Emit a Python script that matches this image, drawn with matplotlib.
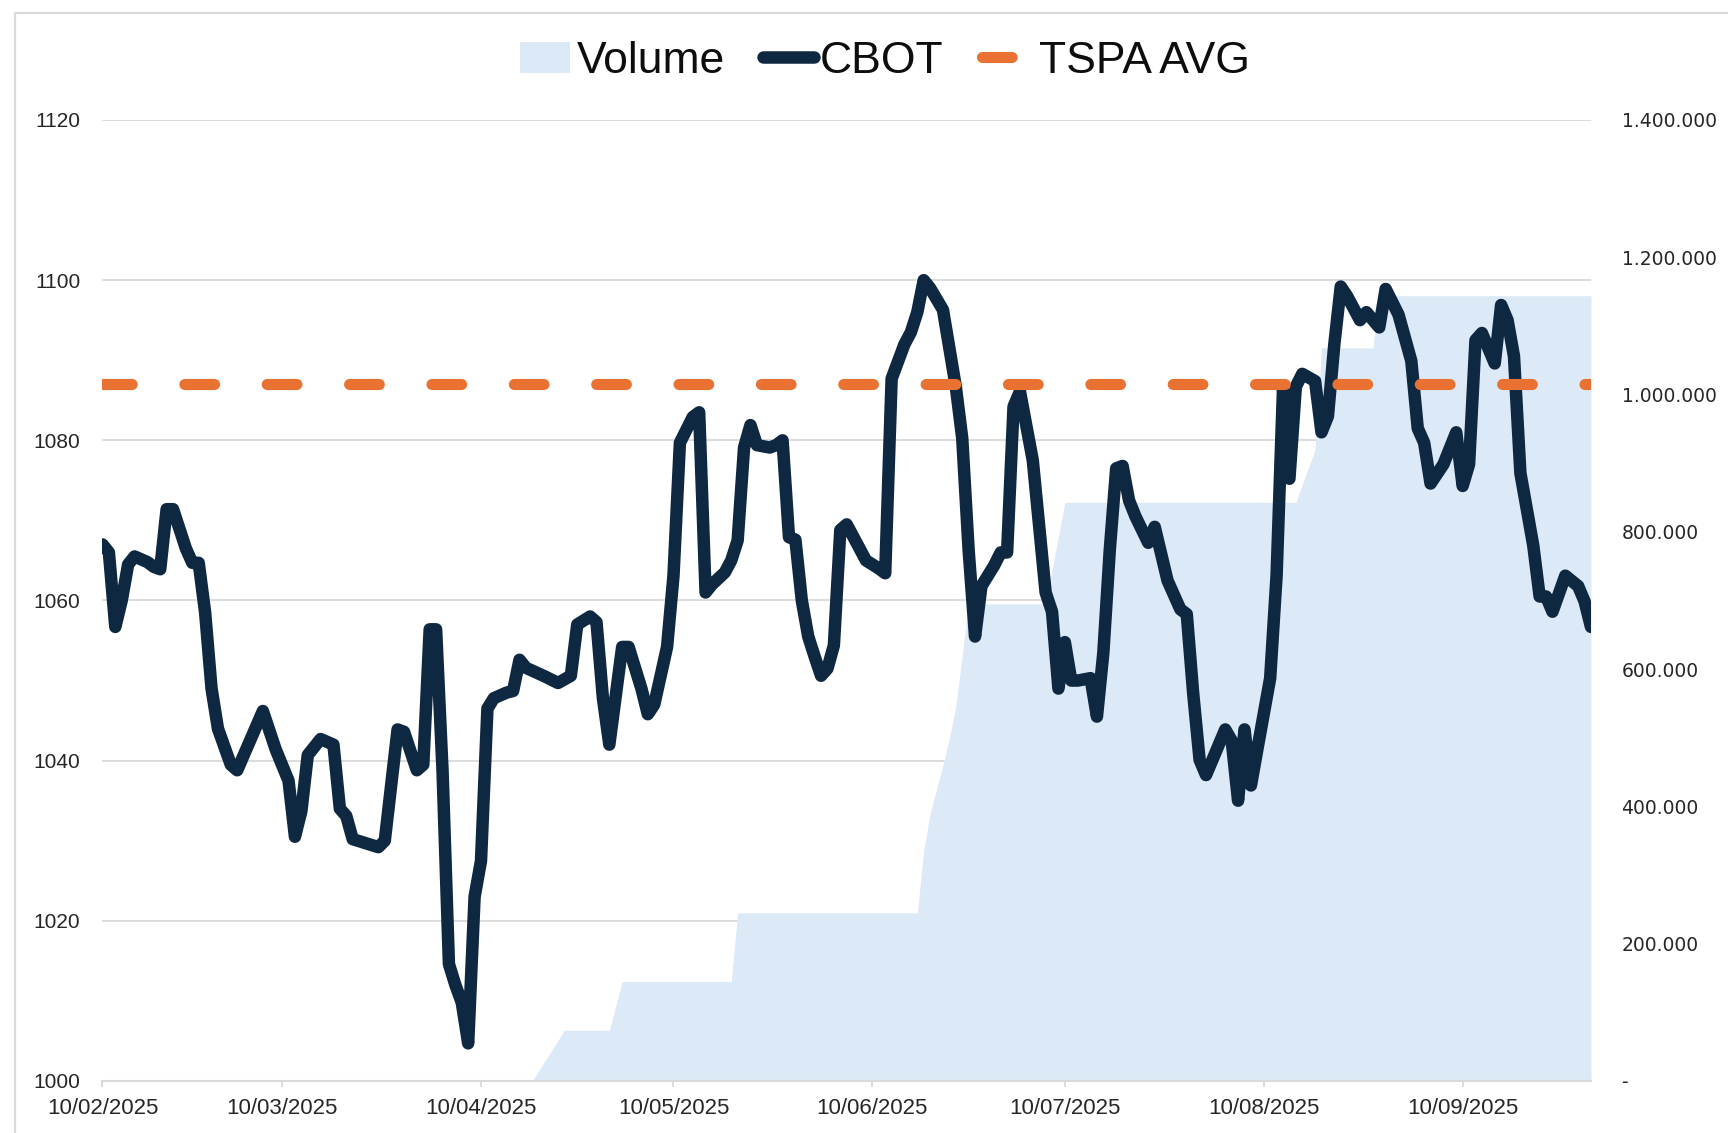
import matplotlib
matplotlib.use("Agg")
import matplotlib.pyplot as plt
import matplotlib.dates as mdates
import pandas as pd
from matplotlib.ticker import FuncFormatter, MultipleLocator
from matplotlib.patches import Rectangle

plt.rcParams["font.family"] = ["Liberation Sans", "DejaVu Sans"]
plt.rcParams["lines.scale_dashes"] = False

# ---------------- data ----------------
cbot_dates = [
    "2025-02-10", "2025-02-11", "2025-02-12", "2025-02-13", "2025-02-14", "2025-02-15", "2025-02-17",
    "2025-02-18", "2025-02-19", "2025-02-20", "2025-02-21", "2025-02-23", "2025-02-24", "2025-02-25",
    "2025-02-26", "2025-02-27", "2025-02-28",
    "2025-03-02", "2025-03-03", "2025-03-05", "2025-03-07", "2025-03-09", "2025-03-11", "2025-03-12",
    "2025-03-13", "2025-03-14", "2025-03-16", "2025-03-18", "2025-03-19", "2025-03-20", "2025-03-21",
    "2025-03-25", "2025-03-26", "2025-03-28", "2025-03-29", "2025-03-31",
    "2025-04-01", "2025-04-02", "2025-04-03", "2025-04-04", "2025-04-05", "2025-04-06", "2025-04-07",
    "2025-04-08", "2025-04-09", "2025-04-10", "2025-04-11", "2025-04-12", "2025-04-14", "2025-04-15",
    "2025-04-16", "2025-04-17", "2025-04-20", "2025-04-22", "2025-04-24", "2025-04-25", "2025-04-27",
    "2025-04-28", "2025-04-29", "2025-04-30",
    "2025-05-02", "2025-05-03", "2025-05-05", "2025-05-06", "2025-05-07", "2025-05-09", "2025-05-10",
    "2025-05-11", "2025-05-13", "2025-05-14", "2025-05-15", "2025-05-16", "2025-05-18", "2025-05-19",
    "2025-05-20", "2025-05-21", "2025-05-22", "2025-05-23", "2025-05-25", "2025-05-26", "2025-05-27",
    "2025-05-28", "2025-05-29", "2025-05-30", "2025-05-31",
    "2025-06-01", "2025-06-02", "2025-06-03", "2025-06-04", "2025-06-05", "2025-06-06", "2025-06-07",
    "2025-06-09", "2025-06-11", "2025-06-12", "2025-06-13", "2025-06-15", "2025-06-16", "2025-06-17",
    "2025-06-18", "2025-06-19", "2025-06-21", "2025-06-23", "2025-06-24", "2025-06-25", "2025-06-26",
    "2025-06-27", "2025-06-29", "2025-06-30",
    "2025-07-01", "2025-07-02", "2025-07-03", "2025-07-05", "2025-07-07", "2025-07-08", "2025-07-09",
    "2025-07-10", "2025-07-11", "2025-07-12", "2025-07-14", "2025-07-15", "2025-07-16", "2025-07-17",
    "2025-07-18", "2025-07-19", "2025-07-20", "2025-07-21", "2025-07-23", "2025-07-24", "2025-07-26",
    "2025-07-28", "2025-07-29", "2025-07-30", "2025-07-31",
    "2025-08-01", "2025-08-04", "2025-08-05", "2025-08-06", "2025-08-07", "2025-08-08", "2025-08-09",
    "2025-08-11", "2025-08-12", "2025-08-13", "2025-08-14", "2025-08-15", "2025-08-16", "2025-08-18",
    "2025-08-19", "2025-08-20", "2025-08-21", "2025-08-22", "2025-08-23", "2025-08-25", "2025-08-26",
    "2025-08-28", "2025-08-29", "2025-08-31",
    "2025-09-02", "2025-09-03", "2025-09-04", "2025-09-05", "2025-09-07", "2025-09-09", "2025-09-10",
    "2025-09-11", "2025-09-12", "2025-09-13", "2025-09-15", "2025-09-16", "2025-09-17", "2025-09-18",
    "2025-09-19", "2025-09-21", "2025-09-22", "2025-09-23", "2025-09-24", "2025-09-26", "2025-09-28",
    "2025-09-29", "2025-09-30",
]
cbot = [
    1067.0, 1066.0, 1056.7, 1060.0, 1064.5, 1065.5, 1064.8, 1064.2, 1063.9, 1071.4, 1071.4, 1066.5,
    1064.7, 1064.7, 1058.5, 1049.0, 1044.0,
    1039.5, 1038.8, 1042.5, 1046.2, 1041.4, 1037.5, 1030.5, 1033.7, 1040.7, 1042.7, 1042.0, 1034.0,
    1033.1, 1030.2, 1029.2, 1030.0, 1043.9, 1043.6, 1038.8,
    1039.5, 1056.4, 1056.4, 1038.8, 1014.6, 1012.0, 1009.8, 1004.7, 1023.0, 1027.5, 1046.5, 1047.8,
    1048.5, 1048.7, 1052.6, 1051.6, 1050.5, 1049.7, 1050.6, 1057.0, 1058.0, 1057.3, 1047.8, 1042.0,
    1054.2, 1054.2, 1049.0, 1045.8, 1047.0, 1054.2, 1063.1, 1079.7, 1082.9, 1083.5, 1061.0, 1062.0,
    1063.5, 1065.0, 1067.5, 1079.1, 1081.9, 1079.4, 1079.1, 1079.4, 1080.0, 1067.9, 1067.6, 1060.0,
    1055.5,
    1053.0, 1050.6, 1051.5, 1054.4, 1068.8, 1069.5, 1068.0, 1065.0, 1064.0, 1063.4, 1087.7, 1092.0,
    1093.5, 1096.0, 1100.0, 1099.0, 1096.3, 1086.7, 1080.3, 1066.3, 1055.5, 1061.8, 1064.4, 1066.0,
    1066.0, 1084.2, 1086.1, 1077.5, 1061.0, 1058.6, 1049.0, 1054.8, 1050.0, 1050.0, 1050.3, 1045.5,
    1053.5, 1066.3, 1076.5, 1076.8, 1072.5, 1070.5, 1067.2, 1069.2, 1062.5, 1058.9, 1058.3, 1048.4,
    1040.1,
    1038.2, 1043.9, 1042.5, 1035.0, 1043.9, 1036.9, 1041.4, 1050.3, 1063.1, 1086.4, 1075.2, 1086.7,
    1088.3, 1087.4, 1081.0, 1083.0, 1092.0, 1099.2, 1098.0, 1095.0, 1096.0, 1094.1, 1098.9, 1095.7,
    1089.9, 1081.5, 1079.7, 1074.6, 1077.0, 1081.0, 1074.3, 1077.0, 1092.5, 1093.4, 1089.6, 1096.9,
    1095.0, 1090.5, 1075.9, 1066.9, 1060.5, 1060.5, 1058.6, 1063.1, 1061.8, 1059.9, 1056.7,
]
tspa_avg = 1087.0

volume_dates = [
    "2025-02-10", "2025-04-18", "2025-04-23", "2025-04-30", "2025-05-02", "2025-05-19", "2025-05-20",
    "2025-06-17", "2025-06-18", "2025-06-19", "2025-06-21", "2025-06-22", "2025-06-23", "2025-06-24",
    "2025-06-25", "2025-07-07", "2025-07-10", "2025-08-15", "2025-08-18", "2025-08-19", "2025-08-27",
    "2025-08-28", "2025-09-30",
]
volume = [
    0, 0, 74000, 74000, 145000, 145000, 245000,
    245000, 335000, 390000, 460000, 500000, 545000, 620000,
    695000, 695000, 843000, 843000, 920000, 1068000, 1068000,
    1144000, 1144000,
]

series_labels = ["Volume", "CBOT", "TSPA AVG"]

# ---------------- styling ----------------
C_VOL = "#DCE9F6"
C_CBOT = "#0E2841"
C_TSPA = "#E97132"
C_GRID = "#D9D9D9"
C_TXT = "#262626"

cx = pd.to_datetime(cbot_dates)
vx = pd.to_datetime(volume_dates)

fig = plt.figure(figsize=(17.28, 11.33), dpi=100)
ax = fig.add_axes([0.0593, 0.0459, 0.8614, 0.8482])
ax2 = ax.twinx()
ax.set_zorder(ax2.get_zorder() + 1)
ax.patch.set_visible(False)

ax2.set_ylim(0, 1400000)
ax.set_ylim(1000, 1120)

# volume area drawn in ax (above the grid, below the lines) using ax2's scale
vol = ax.fill_between(vx, 0, volume, transform=ax2.transData, color=C_VOL,
                      lw=0, zorder=1, label=series_labels[0])

l_cbot, = ax.plot(cx, cbot, color=C_CBOT, lw=9, solid_joinstyle="round",
                  solid_capstyle="round", zorder=3, label=series_labels[1])
l_tspa, = ax.plot([cx[0], cx[-1]], [tspa_avg, tspa_avg], color=C_TSPA, lw=8,
                  dashes=(21.4, 37.9), dash_capstyle="round", zorder=4,
                  label=series_labels[2])

ax.set_xlim(cx[0], cx[-1])
ax.set_ylim(1000, 1120)
ax2.set_ylim(0, 1400000)

# grid / spines
ax.set_axisbelow(True)
ax.yaxis.set_major_locator(MultipleLocator(20))
ax.yaxis.grid(True, color=C_GRID, lw=1.3)
for s in ["top", "left", "right"]:
    ax.spines[s].set_visible(False)
    ax2.spines[s].set_visible(False)
ax2.spines["bottom"].set_visible(False)
ax.spines["bottom"].set_color(C_GRID)
ax.spines["bottom"].set_linewidth(1.5)

# x axis
ax.xaxis.set_major_locator(mdates.MonthLocator(bymonthday=10))
ax.xaxis.set_major_formatter(mdates.DateFormatter("%d/%m/%Y"))
ax.tick_params(axis="x", length=4, width=1.3, color=C_GRID, labelsize=16,
               labelcolor=C_TXT, pad=8)
ax.tick_params(axis="y", length=0, labelsize=15, labelcolor=C_TXT, pad=16)

# right axis
ax2.yaxis.set_major_locator(MultipleLocator(200000))
ax2.yaxis.set_major_formatter(FuncFormatter(
    lambda v, p: "-" if abs(v) < 1 else f"{v:,.0f}".replace(",", ".")))
ax2.tick_params(axis="y", length=0, labelsize=13.5, labelcolor=C_TXT, pad=22)
for t in ax2.get_yticklabels():
    t.set_fontfamily("DejaVu Sans")

# legend
fig.legend(handles=[vol, l_cbot, l_tspa], labels=series_labels, loc="center",
           bbox_to_anchor=(0.512, 0.946), ncol=3, frameon=False,
           prop={"family": ["Liberation Sans Narrow", "Liberation Sans"], "size": 32},
           handlelength=1.14, handleheight=0.7, handletextpad=0.15,
           columnspacing=0.85, labelcolor="#0d0d0d")

# chart-area border (only top and left are visible in the crop)
fig.patches.append(Rectangle((15.4 / 1728, -0.1), 1.2, (1 - 13 / 1133) + 0.1,
                             transform=fig.transFigure, fill=False,
                             ec=C_GRID, lw=1.6))

fig.savefig("out.png", dpi=100, facecolor="white")
